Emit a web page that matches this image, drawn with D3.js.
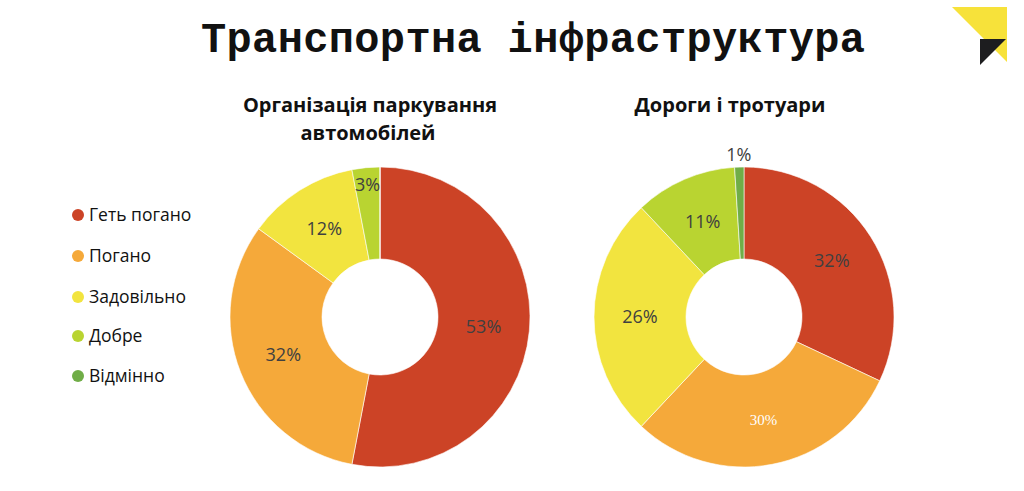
<!DOCTYPE html>
<html>
<head>
<meta charset="utf-8">
<script src="https://cdn.jsdelivr.net/npm/d3@7"></script>
<style>
  body { margin: 0; background: #fff; }
  svg { display: block; font-family: 'Open Sans', 'Noto Sans', sans-serif; }
  .label { font-size: 18px; fill: #404040; }
  .subtitle { font-size: 20px; font-weight: bold; fill: #111; }
</style>
</head>
<body>
<svg width="1024" height="491"></svg>
<script>
const categories = ['Геть погано', 'Погано', 'Задовільно', 'Добре', 'Відмінно'];
const colors = ['#cc4326', '#f5a93a', '#f2e43f', '#b9d431', '#70ad47'];
const parkingValues = [53, 32, 12, 3, 0];
const roadsValues = [32, 30, 26, 11, 1];

const svg = d3.select('svg');

// title
svg.append('text')
  .attr('x', 533).attr('y', 52)
  .attr('text-anchor', 'middle')
  .style('font-family', "'Liberation Mono', 'Courier New', monospace")
  .style('font-weight', 'bold')
  .style('font-size', '42px')
  .attr('textLength', 664)
  .attr('fill', '#111')
  .text('Транспортна інфраструктура');

// logo
svg.append('polygon').attr('points', '952,7 1007,7 1007,62').attr('fill', '#f7e23a');
svg.append('polygon').attr('points', '980,39 1006,39 980,65').attr('fill', '#1d1d1f');

// legend
const legend = svg.append('g').attr('transform', 'translate(78,215)');
const item = legend.selectAll('g').data(categories).enter().append('g')
  .attr('transform', function(d, i) { return 'translate(0,' + [0, 41, 82, 121, 161][i] + ')'; });
item.append('circle').attr('r', 6).attr('fill', function(d, i) { return colors[i]; });
item.append('text').attr('x', 11).attr('y', 6)
  .style('font-size', '17.5px').attr('fill', '#111')
  .text(function(d) { return d; });

function makeDonut(cx, cy, values, labelOpts) {
  const pie = d3.pie().sort(null).value(function(d) { return d; });
  const arc = d3.arc().innerRadius(58).outerRadius(150);
  const arcs = pie(values);
  const g = svg.append('g').attr('transform', 'translate(' + cx + ',' + cy + ')');
  g.selectAll('path').data(arcs).enter().append('path')
    .attr('d', arc)
    .attr('fill', function(d, i) { return colors[i]; })
    .attr('stroke', '#fff').attr('stroke-width', 0.6);
  arcs.forEach(function(d, i) {
    if (!d.data) return;
    const o = labelOpts[i] || {};
    const r = o.r || 104;
    const a = (d.startAngle + d.endAngle) / 2;
    g.append('text')
      .attr('class', 'label')
      .attr('x', Math.sin(a) * r + (o.dx || 0))
      .attr('y', -Math.cos(a) * r + 6 + (o.dy || 0))
      .attr('text-anchor', 'middle')
      .style('fill', o.fill || '#404040')
      .style('font-family', o.font || null)
      .style('font-size', o.size || null)
      .text(d.data + '%');
  });
}

svg.append('text').attr('class', 'subtitle').attr('x', 370).attr('y', 112).attr('text-anchor', 'middle').text('Організація паркування');
svg.append('text').attr('class', 'subtitle').attr('x', 368).attr('y', 140).attr('text-anchor', 'middle').text('автомобілей');
svg.append('text').attr('class', 'subtitle').attr('x', 730).attr('y', 112).attr('text-anchor', 'middle').text('Дороги і тротуари');

makeDonut(380, 317, parkingValues, [{}, {}, {}, {r: 133}]);
makeDonut(744, 317, roadsValues, [{}, {fill: '#fff', font: "'Liberation Serif', serif", size: '15px'}, {}, {}, {r: 162}]);
</script>
</body>
</html>
